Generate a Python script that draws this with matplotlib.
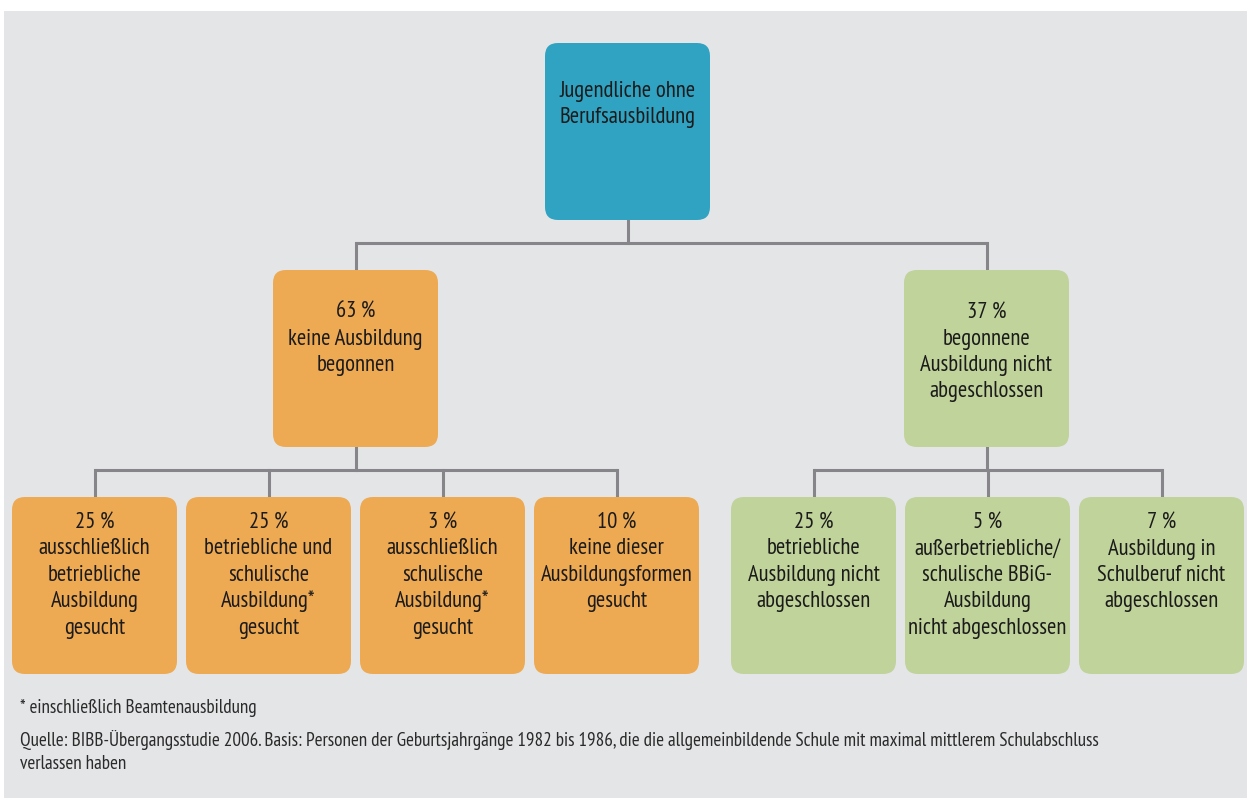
import matplotlib
matplotlib.use("Agg")
import matplotlib.pyplot as plt
from matplotlib.patches import FancyBboxPatch, Rectangle

# ---- data ----
root_label = "Jugendliche ohne\nBerufsausbildung"
level2_labels = ["63\u2009%\nkeine Ausbildung\nbegonnen",
                 "37\u2009%\nbegonnene\nAusbildung nicht\nabgeschlossen"]
left_children = ["25\u2009%\nausschließlich\nbetriebliche\nAusbildung\ngesucht",
                 "25\u2009%\nbetriebliche und\nschulische\nAusbildung*\ngesucht",
                 "3\u2009%\nausschließlich\nschulische\nAusbildung*\ngesucht",
                 "10\u2009%\nkeine dieser\nAusbildungsformen\ngesucht"]
right_children = ["25\u2009%\nbetriebliche\nAusbildung nicht\nabgeschlossen",
                  "5\u2009%\naußerbetriebliche/\nschulische BBiG-\nAusbildung\nnicht abgeschlossen",
                  "7\u2009%\nAusbildung in\nSchulberuf nicht\nabgeschlossen"]
footnote = "* einschließlich Beamtenausbildung"
source = ("Quelle: BIBB-Übergangsstudie 2006. Basis: Personen der Geburtsjahrgänge 1982 bis 1986, "
          "die die allgemeinbildende Schule mit maximal mittlerem Schulabschluss\nverlassen haben")

# ---- style ----
BG = "#e4e5e7"
BLUE = "#30a3c3"
ORANGE = "#eea953"
GREEN = "#c0d39b"
LINE = "#86868a"
TXT = "#1b1b1b"
FONT = ["PT Sans Narrow", "DejaVu Sans"]

W, H = 1247, 798
fig = plt.figure(figsize=(W / 100, H / 100), dpi=100)
ax = fig.add_axes([0, 0, 1, 1])
ax.set_xlim(0, W)
ax.set_ylim(H, 0)
ax.axis("off")

ax.add_patch(Rectangle((4, 11), W - 4, H - 11, facecolor=BG, edgecolor="none", zorder=0))

BW, BH = 165, 177


def box(x, y, color, label, first_base):
    ax.add_patch(FancyBboxPatch((x, y), BW, BH,
                                boxstyle="round,pad=0,rounding_size=13",
                                facecolor=color, edgecolor="none", zorder=2))
    for i, ln in enumerate(label.split("\n")):
        ax.text(x + BW / 2, y + first_base + i * 26.5, ln, ha="center", va="baseline",
                fontsize=16.3, family=FONT, color=TXT, zorder=3)
    return x + BW / 2


def connector(parent_cx, parent_bottom, bar_y, child_cxs, child_top):
    ax.plot([parent_cx, parent_cx], [parent_bottom, bar_y], color=LINE, lw=2.2, zorder=1)
    ax.plot([min(child_cxs), max(child_cxs)], [bar_y, bar_y], color=LINE, lw=2.2, zorder=1,
            solid_capstyle="butt")
    for c in child_cxs:
        ax.plot([c, c], [bar_y, child_top], color=LINE, lw=2.2, zorder=1)


# root
root_cx = box(545, 43, BLUE, root_label, 54)

# level 2
l2_x = [273, 904]
l2_cols = [ORANGE, GREEN]
l2_cx = [box(x, 270, c, lab, 48) for x, c, lab in zip(l2_x, l2_cols, level2_labels)]
connector(root_cx, 220, 243, l2_cx, 270)

# level 3
step = BW + 9
lc = [box(12 + i * step, 497, ORANGE, lab, 31) for i, lab in enumerate(left_children)]
rc = [box(731 + i * step, 497, GREEN, lab, 31) for i, lab in enumerate(right_children)]
connector(l2_cx[0], 447, 470, lc, 497)
connector(l2_cx[1], 447, 470, rc, 497)

# footer
ax.text(20, 713, footnote, ha="left", va="baseline", fontsize=13.8, family=FONT, color="#2a2a2a")
for i, ln in enumerate(source.split("\n")):
    ax.text(20, 746 + i * 23, ln, ha="left", va="baseline", fontsize=13.8, family=FONT,
            color="#2a2a2a")

fig.savefig("out.png", dpi=100, facecolor="white")
